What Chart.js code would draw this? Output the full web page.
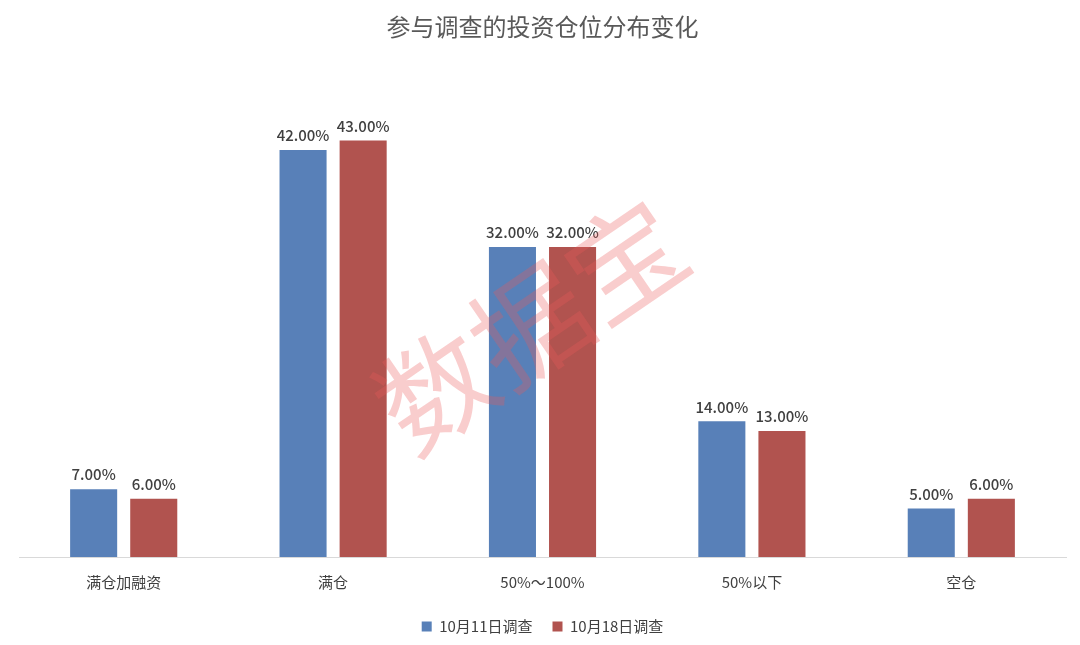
<!DOCTYPE html>
<html><head><meta charset="utf-8">
<script src="https://cdn.jsdelivr.net/npm/chart.js@4/dist/chart.umd.min.js"></script>
<style>html,body{margin:0;background:#fff}#w{width:1080px;height:645px}</style>
</head><body><div id="w"><canvas id="c"></canvas></div>
<script>
const categories=["满仓加融资","满仓","50%～100%","50%以下","空仓"];
const s1Name="10月11日调查", s2Name="10月18日调查";
const s1=[7,42,32,14,5];
const s2=[6,43,32,13,6];
const FONT='"Noto Sans CJK SC","Noto Sans",sans-serif';
const labels={id:'lbl',afterDatasetsDraw(ch){const x=ch.ctx;x.save();x.font='500 15px '+FONT;x.fillStyle='#404040';x.textAlign='center';x.textBaseline='bottom';
ch.data.datasets.forEach((d,i)=>ch.getDatasetMeta(i).data.forEach((b,j)=>x.fillText(d.data[j].toFixed(2)+'%',b.x,b.y-7)));
x.translate(530,325);x.rotate(-0.6);x.font='115px '+FONT;x.fillStyle='rgba(235,90,90,0.3)';x.textAlign='center';x.textBaseline='middle';x.fillText('数据宝',0,0);x.restore();}};
new Chart(document.getElementById('c'),{type:'bar',data:{labels:categories,datasets:[
{label:s1Name,data:s1,backgroundColor:'#5880b8',categoryPercentage:0.574,barPercentage:0.783},
{label:s2Name,data:s2,backgroundColor:'#b1534f',categoryPercentage:0.574,barPercentage:0.783}]},
options:{responsive:true,maintainAspectRatio:false,animation:false,
layout:{padding:{left:19,right:14,top:8,bottom:1}},
plugins:{title:{display:true,text:'参与调查的投资仓位分布变化',font:{family:FONT,size:24,weight:'normal'},color:'#595959',padding:{top:4,bottom:26}},
legend:{position:'bottom',labels:{font:{family:FONT,size:15},color:'#404040',boxWidth:10,boxHeight:10,padding:20}},tooltip:{enabled:false}},
scales:{x:{grid:{display:false},border:{color:'#d9d9d9'},ticks:{font:{family:FONT,size:15},color:'#404040',padding:8}},
y:{display:false,min:0,max:50.6}}},plugins:[labels]});
</script></body></html>
